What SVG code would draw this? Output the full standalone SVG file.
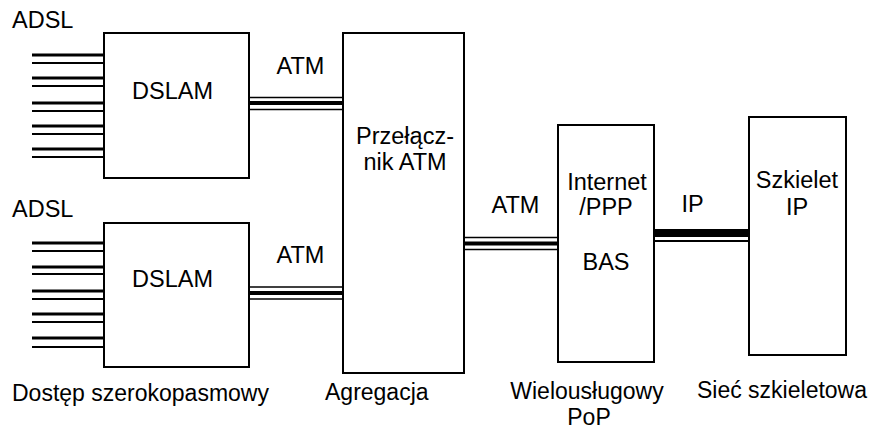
<svg xmlns="http://www.w3.org/2000/svg" width="885" height="430" viewBox="0 0 885 430">
<style>
.box{fill:#fff;stroke:#000;stroke-width:2}
text{font-family:"Liberation Sans",Arial,sans-serif;font-size:23.5px;fill:#000}
.m{text-anchor:middle}
.cap{font-size:23px}
.l{stroke:#000;fill:none}
.t3{stroke-width:3}
.t2{stroke-width:2}
.t15{stroke-width:1.6}
.t4{stroke-width:4}
.t8{stroke-width:8}
</style>
<rect width="885" height="430" fill="#fff"/>
<g id="connectors">
  <g id="adsl1">
    <line class="l t3" x1="32" y1="55" x2="104" y2="55"/>
    <line class="l t2" x1="32" y1="63" x2="104" y2="63"/>
    <line class="l t3" x1="32" y1="78" x2="104" y2="78"/>
    <line class="l t2" x1="32" y1="86" x2="104" y2="86"/>
    <line class="l t3" x1="32" y1="103" x2="104" y2="103"/>
    <line class="l t2" x1="32" y1="111" x2="104" y2="111"/>
    <line class="l t3" x1="32" y1="126" x2="104" y2="126"/>
    <line class="l t2" x1="32" y1="134" x2="104" y2="134"/>
    <line class="l t3" x1="32" y1="149" x2="104" y2="149"/>
    <line class="l t2" x1="32" y1="157" x2="104" y2="157"/>
  </g>
  <g id="adsl2">
    <line class="l t3" x1="32" y1="243" x2="104" y2="243"/>
    <line class="l t2" x1="32" y1="251" x2="104" y2="251"/>
    <line class="l t3" x1="32" y1="267" x2="104" y2="267"/>
    <line class="l t2" x1="32" y1="274" x2="104" y2="274"/>
    <line class="l t3" x1="32" y1="291" x2="104" y2="291"/>
    <line class="l t2" x1="32" y1="299" x2="104" y2="299"/>
    <line class="l t3" x1="32" y1="314" x2="104" y2="314"/>
    <line class="l t2" x1="32" y1="322" x2="104" y2="322"/>
    <line class="l t3" x1="32" y1="338" x2="104" y2="338"/>
    <line class="l t2" x1="32" y1="347" x2="104" y2="347"/>
  </g>
  <g id="atm1">
    <line class="l t15" x1="249" y1="97.5" x2="343" y2="97.5"/>
    <line class="l t4" x1="249" y1="103" x2="343" y2="103"/>
    <line class="l t15" x1="249" y1="109.5" x2="343" y2="109.5"/>
  </g>
  <g id="atm2">
    <line class="l t15" x1="249" y1="287" x2="343" y2="287"/>
    <line class="l t4" x1="249" y1="293" x2="343" y2="293"/>
    <line class="l t15" x1="249" y1="299" x2="343" y2="299"/>
  </g>
  <g id="atm3">
    <line class="l t15" x1="464" y1="237.5" x2="558" y2="237.5"/>
    <line class="l t4" x1="464" y1="243.5" x2="558" y2="243.5"/>
    <line class="l t15" x1="464" y1="249.5" x2="558" y2="249.5"/>
  </g>
  <g id="ip">
    <line class="l t8" x1="654" y1="233" x2="748" y2="233"/>
    <line class="l t2" x1="654" y1="241" x2="748" y2="241"/>
  </g>
</g>
<g id="dslam1">
  <rect class="box" x="104" y="33" width="145" height="145"/>
  <text x="172.5" y="99" class="m">DSLAM</text>
</g>
<g id="dslam2">
  <rect class="box" x="104" y="223" width="145" height="144"/>
  <text x="172.5" y="287" class="m">DSLAM</text>
</g>
<g id="switch">
  <rect class="box" x="343" y="33" width="121" height="340"/>
  <text x="405" y="144" class="m">Przełącz-</text>
  <text x="405" y="170" class="m">nik ATM</text>
</g>
<g id="bas">
  <rect class="box" x="558" y="125" width="96" height="237"/>
  <text x="607" y="190" class="m">Internet</text>
  <text x="606" y="215" class="m">/PPP</text>
  <text x="606" y="270" class="m">BAS</text>
</g>
<g id="backbone">
  <rect class="box" x="749" y="117" width="97" height="238"/>
  <text x="797" y="188" class="m">Szkielet</text>
  <text x="797" y="215" class="m">IP</text>
</g>
<g id="labels">
  <text x="12" y="401" class="cap">Dostęp szerokopasmowy</text>
  <text x="325" y="400" class="cap">Agregacja</text>
  <text x="587" y="399" class="cap m">Wielousługowy</text>
  <text x="589" y="425" class="cap m">PoP</text>
  <text x="782" y="398" class="cap m">Sieć szkieletowa</text>
  <text x="12" y="28">ADSL</text>
  <text x="12" y="217">ADSL</text>
  <text x="300.5" y="74" class="m">ATM</text>
  <text x="300.5" y="263" class="m">ATM</text>
  <text x="515.5" y="213" class="m">ATM</text>
  <text x="692.5" y="212" class="m">IP</text>
</g>
</svg>
